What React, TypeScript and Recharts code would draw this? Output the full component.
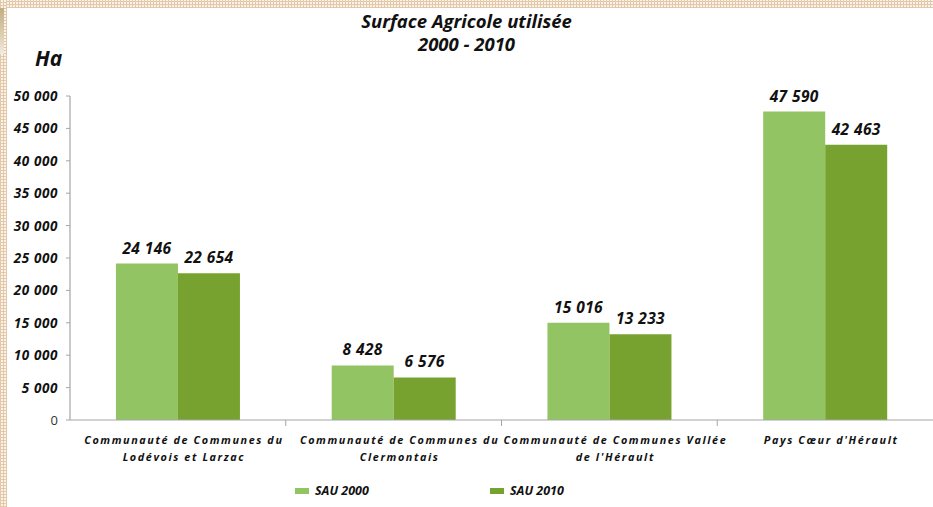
import React from "react";
import { BarChart, Bar, XAxis, YAxis, Legend, LabelList } from "recharts";

const categories = [
  ["Communauté de Communes du", "Lodévois et Larzac"],
  ["Communauté de Communes du", "Clermontais"],
  ["Communauté de Communes Vallée", "de l'Hérault"],
  ["Pays Cœur d'Hérault", ""],
];
const sau2000 = [24146, 8428, 15016, 47590];
const sau2010 = [22654, 6576, 13233, 42463];
const yTicks = [0, 5000, 10000, 15000, 20000, 25000, 30000, 35000, 40000, 45000, 50000];

const data = categories.map((c, i) => ({
  name: c.join("|"),
  s2000: sau2000[i],
  s2010: sau2010[i],
}));

const FONT = "'Open Sans', 'DejaVu Sans', sans-serif";
const C2000 = "#93c463";
const C2010 = "#78a22f";
const AXIS = "#a6a6a6";

const fmt = (v: any) => {
  const n = Math.round(Number(v));
  return String(n).replace(/\B(?=(\d{3})+(?!\d))/g, " ");
};

const XTick = (props: any) => {
  const { x, y, payload } = props;
  const [l1, l2] = String(payload.value).split("|");
  const off = payload.offset || 0;
  return (
    <g>
      {payload.index > 0 && (
        <line x1={x - off} x2={x - off} y1={y - 8} y2={y - 2} stroke={AXIS} strokeWidth={1} />
      )}
      <text
        x={x + 6}
        y={y + 16}
        textAnchor="middle"
        fontFamily={FONT}
        fontSize={10.8}
        fontWeight="bold"
        fontStyle="italic"
        letterSpacing={1.6}
        fill="#111"
      >
        <tspan x={x + 6} dy={0}>{l1}</tspan>
        {l2 && (
          <tspan x={x + 6} dy={17}>{l2}</tspan>
        )}
      </text>
    </g>
  );
};

const YTick = (props: any) => {
  const { y, payload } = props;
  const isZero = payload.value === 0;
  return (
    <text
      x={58}
      y={y + 5}
      textAnchor="end"
      fontFamily={FONT}
      fontSize={isZero ? 13 : 13.5}
      fontWeight={isZero ? "normal" : "bold"}
      fontStyle={isZero ? "normal" : "italic"}
      letterSpacing={isZero ? 0 : 0.6}
      fill={isZero ? "#333" : "#111"}
    >
      {isZero ? "0" : fmt(payload.value)}
    </text>
  );
};

const LegendContent = (props: any) => {
  const { payload } = props;
  const xs = [295, 490];
  return (
    <div style={{ position: "relative", height: 30, width: 933 }}>
      {(payload || []).map((p: any, i: number) => (
        <div
          key={i}
          style={{
            position: "absolute",
            left: xs[i],
            top: 5,
            display: "flex",
            alignItems: "center",
            fontFamily: FONT,
            fontSize: 12.5,
            fontWeight: "bold",
            fontStyle: "italic",
            color: "#111",
          }}
        >
          <span style={{ display: "inline-block", width: 14, height: 6, background: p.color, marginRight: 6 }} />
          {p.value}
        </div>
      ))}
    </div>
  );
};

const dots =
  "repeating-linear-gradient(90deg, #e2c7a8 0 1px, transparent 1px 3px), repeating-linear-gradient(0deg, #e2c7a8 0 1px, #fbf3ea 1px 3px)";

const labelStyle = { fontFamily: FONT, fontSize: 15.5, fontWeight: "bold", fontStyle: "italic", fill: "#111", letterSpacing: 0.4 };

export default function App() {
  return (
    <div style={{ position: "fixed", left: 0, top: 0, width: 933, height: 507, background: "#fff", overflow: "hidden" }}>
      <div style={{ position: "absolute", left: 0, top: 0, width: 933, height: 8, background: dots }} />
      <div style={{ position: "absolute", left: 0, top: 0, width: 7, height: 507, background: dots }} />
      <div style={{ position: "absolute", left: 0, top: 8, width: 4, height: 46, background: "linear-gradient(180deg, #c4ad85, #dccfb2 60%, #f1ebe0)" }} />
      <div
        style={{
          position: "absolute",
          left: 0,
          width: 933,
          top: 9,
          textAlign: "center",
          fontFamily: FONT,
          fontSize: 18.5,
          fontWeight: "bold",
          fontStyle: "italic",
          lineHeight: "23px",
          color: "#111",
        }}
      >
        <div style={{ paddingLeft: 0 }}>Surface Agricole utilisée</div>
        <div>2000 - 2010</div>
      </div>
      <div
        style={{
          position: "absolute",
          left: 35,
          top: 44,
          fontFamily: FONT,
          fontSize: 21,
          fontWeight: "bold",
          fontStyle: "italic",
          color: "#111",
        }}
      >
        Ha
      </div>
      <div style={{ position: "absolute", left: 0, top: 0 }}>
        <BarChart
          width={933}
          height={507}
          data={data}
          margin={{ top: 96, right: 0, left: 10, bottom: 0 }}
          barCategoryGap="21.3%"
          barGap={0}
        >
          <XAxis
            dataKey="name"
            height={57}
            tick={<XTick />}
            tickLine={false}
            axisLine={{ stroke: AXIS, strokeWidth: 1.2 }}
            interval={0}
          />
          <YAxis
            width={60}
            domain={[0, 50000]}
            ticks={yTicks}
            tick={<YTick />}
            tickSize={4}
            tickLine={{ stroke: AXIS }}
            axisLine={{ stroke: AXIS, strokeWidth: 1.2 }}
            interval={0}
          />
          <Legend verticalAlign="bottom" height={30} content={<LegendContent />} wrapperStyle={{ left: 0, width: 933, height: 30 }} />
          <Bar dataKey="s2000" name="SAU 2000" fill={C2000} isAnimationActive={false}>
            <LabelList dataKey="s2000" position="top" offset={10} formatter={fmt} style={labelStyle} />
          </Bar>
          <Bar dataKey="s2010" name="SAU 2010" fill={C2010} isAnimationActive={false}>
            <LabelList dataKey="s2010" position="top" offset={10} formatter={fmt} style={labelStyle} />
          </Bar>
        </BarChart>
      </div>
    </div>
  );
}
